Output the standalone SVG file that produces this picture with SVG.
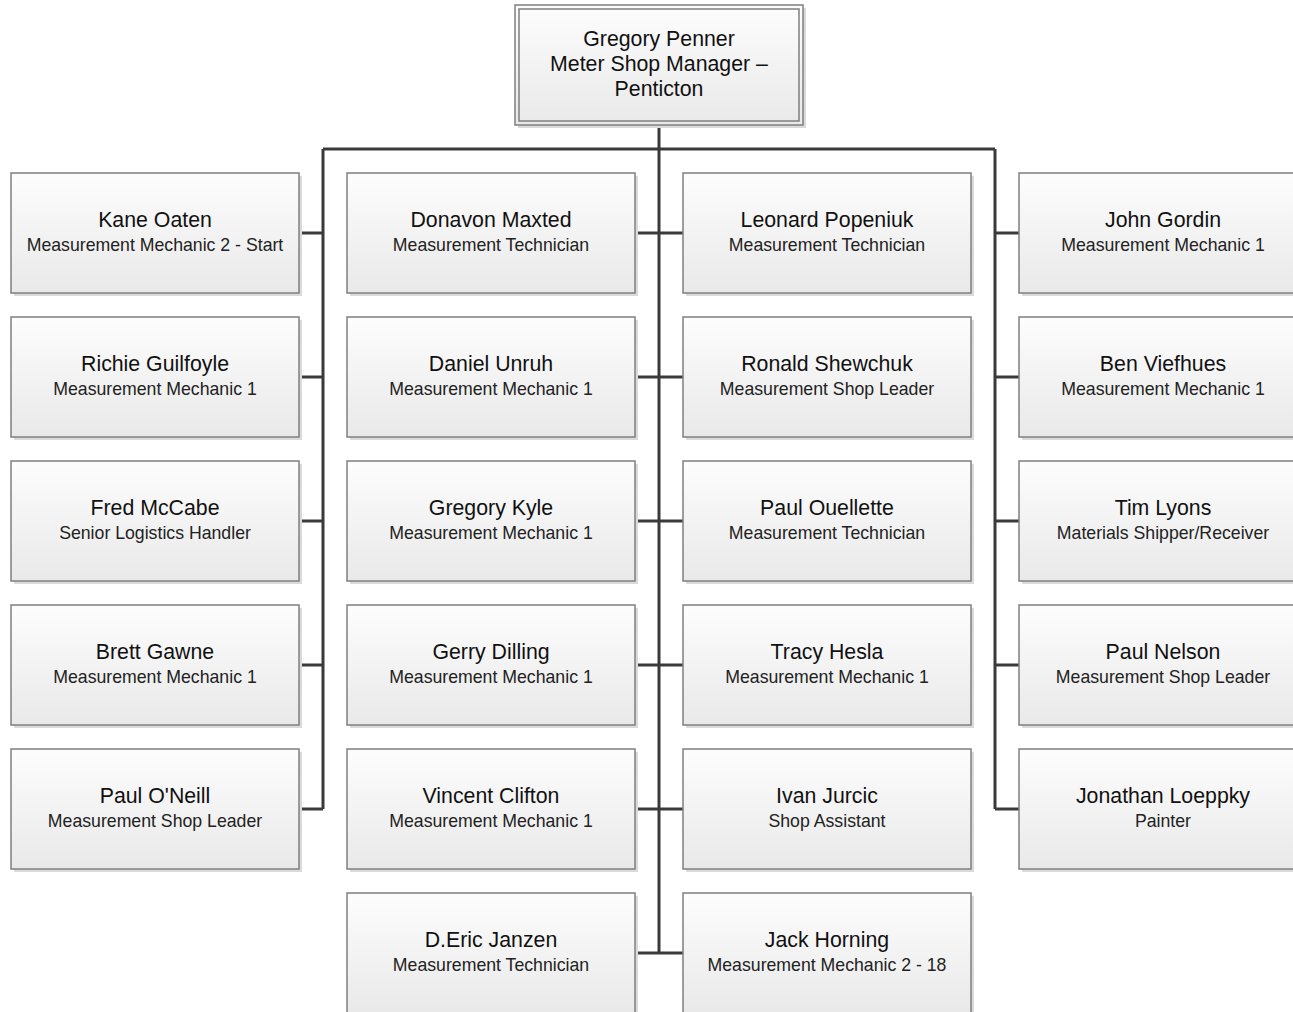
<svg xmlns="http://www.w3.org/2000/svg" width="1293" height="1012" viewBox="0 0 1293 1012">
  <defs>
    <linearGradient id="boxFill" x1="0" y1="0" x2="0" y2="1">
      <stop offset="0" stop-color="#fdfdfd"/>
      <stop offset="1" stop-color="#e9e9e9"/>
    </linearGradient>
    <style>
      .shadow { fill: #dadada; }
      .box { fill: url(#boxFill); stroke: #7f7f7f; stroke-width: 1.5; }
      .inner { fill: none; stroke: #7f7f7f; stroke-width: 1.5; }
      .name { font-family: "Liberation Sans", Arial, sans-serif; font-size: 21.3px; fill: #111; text-anchor: middle; }
      .title { font-family: "Liberation Sans Narrow", "Arial Narrow", "Liberation Sans", sans-serif; font-size: 17.7px; fill: #222; text-anchor: middle; }
      .link { fill: none; stroke: #3a3a3a; stroke-width: 3; }
    </style>
  </defs>

  <!-- reporting lines -->
  <g id="connectors">
    <path class="link" d="M659 125 V953"/>
    <path class="link" d="M323 149 H995"/>
    <path class="link" d="M323 149 V809"/>
    <path class="link" d="M995 149 V809"/>
    <path class="link" d="M299 233 H323 M299 377 H323 M299 521 H323 M299 665 H323 M299 809 H323"/>
    <path class="link" d="M995 233 H1019 M995 377 H1019 M995 521 H1019 M995 665 H1019 M995 809 H1019"/>
    <path class="link" d="M635 233 H683 M635 377 H683 M635 521 H683 M635 665 H683 M635 809 H683 M635 953 H683"/>
  </g>

  <!-- manager -->
  <g id="gregory-penner">
    <rect class="shadow" x="518" y="8" width="288" height="120"/>
    <rect class="box" x="515" y="5" width="288" height="120"/>
    <rect class="inner" x="519" y="9" width="280" height="112"/>
    <text class="name" x="659" y="46">Gregory Penner</text>
    <text class="name" x="659" y="71">Meter Shop Manager –</text>
    <text class="name" x="659" y="96">Penticton</text>
  </g>

  <!-- column 1 -->
  <g id="kane-oaten">
    <rect class="shadow" x="14" y="176" width="288" height="120"/>
    <rect class="box" x="11" y="173" width="288" height="120"/>
    <text class="name" x="155" y="227">Kane Oaten</text>
    <text class="title" x="155" y="251">Measurement Mechanic 2 - Start</text>
  </g>
  <g id="richie-guilfoyle">
    <rect class="shadow" x="14" y="320" width="288" height="120"/>
    <rect class="box" x="11" y="317" width="288" height="120"/>
    <text class="name" x="155" y="371">Richie Guilfoyle</text>
    <text class="title" x="155" y="395">Measurement Mechanic 1</text>
  </g>
  <g id="fred-mccabe">
    <rect class="shadow" x="14" y="464" width="288" height="120"/>
    <rect class="box" x="11" y="461" width="288" height="120"/>
    <text class="name" x="155" y="515">Fred McCabe</text>
    <text class="title" x="155" y="539">Senior Logistics Handler</text>
  </g>
  <g id="brett-gawne">
    <rect class="shadow" x="14" y="608" width="288" height="120"/>
    <rect class="box" x="11" y="605" width="288" height="120"/>
    <text class="name" x="155" y="659">Brett Gawne</text>
    <text class="title" x="155" y="683">Measurement Mechanic 1</text>
  </g>
  <g id="paul-oneill">
    <rect class="shadow" x="14" y="752" width="288" height="120"/>
    <rect class="box" x="11" y="749" width="288" height="120"/>
    <text class="name" x="155" y="803">Paul O'Neill</text>
    <text class="title" x="155" y="827">Measurement Shop Leader</text>
  </g>

  <!-- column 2 -->
  <g id="donavon-maxted">
    <rect class="shadow" x="350" y="176" width="288" height="120"/>
    <rect class="box" x="347" y="173" width="288" height="120"/>
    <text class="name" x="491" y="227">Donavon Maxted</text>
    <text class="title" x="491" y="251">Measurement Technician</text>
  </g>
  <g id="daniel-unruh">
    <rect class="shadow" x="350" y="320" width="288" height="120"/>
    <rect class="box" x="347" y="317" width="288" height="120"/>
    <text class="name" x="491" y="371">Daniel Unruh</text>
    <text class="title" x="491" y="395">Measurement Mechanic 1</text>
  </g>
  <g id="gregory-kyle">
    <rect class="shadow" x="350" y="464" width="288" height="120"/>
    <rect class="box" x="347" y="461" width="288" height="120"/>
    <text class="name" x="491" y="515">Gregory Kyle</text>
    <text class="title" x="491" y="539">Measurement Mechanic 1</text>
  </g>
  <g id="gerry-dilling">
    <rect class="shadow" x="350" y="608" width="288" height="120"/>
    <rect class="box" x="347" y="605" width="288" height="120"/>
    <text class="name" x="491" y="659">Gerry Dilling</text>
    <text class="title" x="491" y="683">Measurement Mechanic 1</text>
  </g>
  <g id="vincent-clifton">
    <rect class="shadow" x="350" y="752" width="288" height="120"/>
    <rect class="box" x="347" y="749" width="288" height="120"/>
    <text class="name" x="491" y="803">Vincent Clifton</text>
    <text class="title" x="491" y="827">Measurement Mechanic 1</text>
  </g>
  <g id="d-eric-janzen">
    <rect class="shadow" x="350" y="896" width="288" height="120"/>
    <rect class="box" x="347" y="893" width="288" height="120"/>
    <text class="name" x="491" y="947">D.Eric Janzen</text>
    <text class="title" x="491" y="971">Measurement Technician</text>
  </g>

  <!-- column 3 -->
  <g id="leonard-popeniuk">
    <rect class="shadow" x="686" y="176" width="288" height="120"/>
    <rect class="box" x="683" y="173" width="288" height="120"/>
    <text class="name" x="827" y="227">Leonard Popeniuk</text>
    <text class="title" x="827" y="251">Measurement Technician</text>
  </g>
  <g id="ronald-shewchuk">
    <rect class="shadow" x="686" y="320" width="288" height="120"/>
    <rect class="box" x="683" y="317" width="288" height="120"/>
    <text class="name" x="827" y="371">Ronald Shewchuk</text>
    <text class="title" x="827" y="395">Measurement Shop Leader</text>
  </g>
  <g id="paul-ouellette">
    <rect class="shadow" x="686" y="464" width="288" height="120"/>
    <rect class="box" x="683" y="461" width="288" height="120"/>
    <text class="name" x="827" y="515">Paul Ouellette</text>
    <text class="title" x="827" y="539">Measurement Technician</text>
  </g>
  <g id="tracy-hesla">
    <rect class="shadow" x="686" y="608" width="288" height="120"/>
    <rect class="box" x="683" y="605" width="288" height="120"/>
    <text class="name" x="827" y="659">Tracy Hesla</text>
    <text class="title" x="827" y="683">Measurement Mechanic 1</text>
  </g>
  <g id="ivan-jurcic">
    <rect class="shadow" x="686" y="752" width="288" height="120"/>
    <rect class="box" x="683" y="749" width="288" height="120"/>
    <text class="name" x="827" y="803">Ivan Jurcic</text>
    <text class="title" x="827" y="827">Shop Assistant</text>
  </g>
  <g id="jack-horning">
    <rect class="shadow" x="686" y="896" width="288" height="120"/>
    <rect class="box" x="683" y="893" width="288" height="120"/>
    <text class="name" x="827" y="947">Jack Horning</text>
    <text class="title" x="827" y="971">Measurement Mechanic 2 - 18</text>
  </g>

  <!-- column 4 -->
  <g id="john-gordin">
    <rect class="shadow" x="1022" y="176" width="288" height="120"/>
    <rect class="box" x="1019" y="173" width="288" height="120"/>
    <text class="name" x="1163" y="227">John Gordin</text>
    <text class="title" x="1163" y="251">Measurement Mechanic 1</text>
  </g>
  <g id="ben-viefhues">
    <rect class="shadow" x="1022" y="320" width="288" height="120"/>
    <rect class="box" x="1019" y="317" width="288" height="120"/>
    <text class="name" x="1163" y="371">Ben Viefhues</text>
    <text class="title" x="1163" y="395">Measurement Mechanic 1</text>
  </g>
  <g id="tim-lyons">
    <rect class="shadow" x="1022" y="464" width="288" height="120"/>
    <rect class="box" x="1019" y="461" width="288" height="120"/>
    <text class="name" x="1163" y="515">Tim Lyons</text>
    <text class="title" x="1163" y="539">Materials Shipper/Receiver</text>
  </g>
  <g id="paul-nelson">
    <rect class="shadow" x="1022" y="608" width="288" height="120"/>
    <rect class="box" x="1019" y="605" width="288" height="120"/>
    <text class="name" x="1163" y="659">Paul Nelson</text>
    <text class="title" x="1163" y="683">Measurement Shop Leader</text>
  </g>
  <g id="jonathan-loeppky">
    <rect class="shadow" x="1022" y="752" width="288" height="120"/>
    <rect class="box" x="1019" y="749" width="288" height="120"/>
    <text class="name" x="1163" y="803">Jonathan Loeppky</text>
    <text class="title" x="1163" y="827">Painter</text>
  </g>
</svg>
